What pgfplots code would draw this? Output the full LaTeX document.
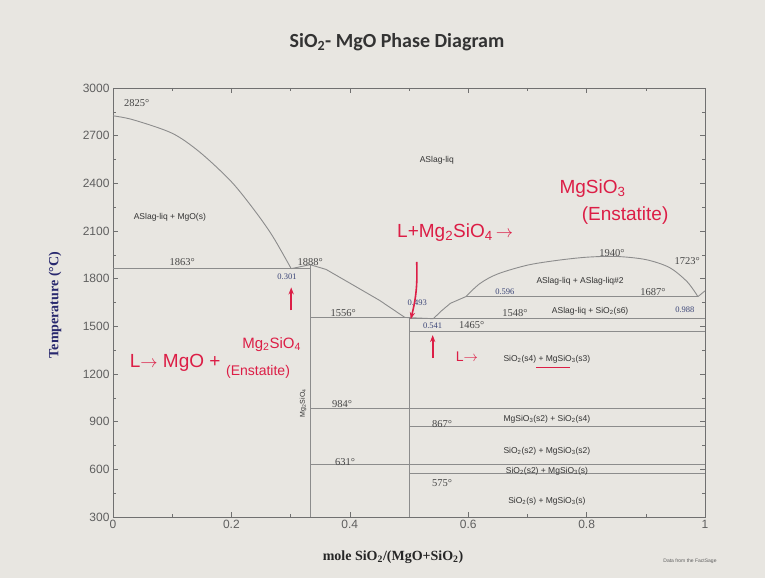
\documentclass[border=0pt]{standalone}
\usepackage{pgfplots}
\pgfplotsset{compat=1.18}
\usetikzlibrary{arrows.meta}
\usepackage{fontspec}
\setmainfont{Liberation Serif}
\newfontfamily\arial{Liberation Sans}
\newfontfamily\calibri{Carlito}
\definecolor{bg}{RGB}{232,230,225}
\definecolor{ln}{RGB}{140,140,140}
\definecolor{tx}{RGB}{70,70,70}
\definecolor{tl}{RGB}{95,95,95}
\definecolor{cb}{RGB}{60,70,120}
\definecolor{navy}{RGB}{40,40,110}
\definecolor{hand}{RGB}{220,30,70}
\pgfplotsset{pl/.style={draw=ln, line width=0.9pt, mark=none}}
\begin{document}
\begin{tikzpicture}[x=1pt,y=1pt]
\fill[bg] (0,0) rectangle (765,578);
\node[font=\calibri\bfseries\fontsize{20}{24}\selectfont, text=black!80] at (397,536) {SiO\textsubscript{2}- MgO Phase Diagram};
\node[font=\arial\fontsize{5}{6}\selectfont, text=tl] at (690,17) {Data from the FactSage};
\begin{axis}[
  at={(113pt,61pt)}, anchor=south west,
  scale only axis, width=592pt, height=429pt,
  xmin=0, xmax=1, ymin=300, ymax=3000,
  xtick={0,0.2,0.4,0.6,0.8,1}, minor x tick num=1,
  ytick={300,600,...,3000}, minor y tick num=1,
  xticklabels={0,0.2,0.4,0.6,0.8,1},
  /pgf/number format/assume math mode=true,
  /pgf/number format/1000 sep={},
  tick label style={font=\arial\fontsize{12}{14}\selectfont, text=tl},
  axis line style={ln!80!black, line width=0.8pt},
  major tick style={ln!80!black, line width=0.6pt},
  minor tick style={ln!80!black, line width=0.6pt},
  major tick length=5pt, minor tick length=3pt,
  xlabel={mole SiO\textsubscript{2}/(MgO+SiO\textsubscript{2})},
  ylabel={Temperature (°C)},
  xlabel style={at={(axis description cs:0.473,-0.093)}, anchor=center, font=\bfseries\fontsize{14}{16}\selectfont, text=black!85},
  ylabel style={at={(axis description cs:-0.098,0.494)}, anchor=center, font=\bfseries\fontsize{14}{16}\selectfont, text=navy},
  clip=false,
]
% liquidus MgO side
\addplot[pl, smooth] coordinates {(0,2825) (0.034,2800) (0.1,2715) (0.147,2595) (0.2,2410) (0.24,2225) (0.27,2065) (0.301,1863)};
% forsterite liquidus
\addplot[pl] coordinates {(0.301,1863) (0.333,1888)};
\addplot[pl] coordinates {(0.333,1888) (0.36,1858) (0.40,1772) (0.45,1664) (0.493,1556)};
% enstatite liquidus
\addplot[pl] coordinates {(0.493,1556) (0.541,1548)};
% cristobalite liquidus
\addplot[pl] coordinates {(0.541,1548) (0.555,1598) (0.57,1645) (0.596,1687)};
% miscibility gap
\addplot[pl, smooth] coordinates {(0.596,1687) (0.62,1770) (0.65,1830) (0.70,1885) (0.75,1915) (0.80,1935) (0.85,1940) (0.90,1920) (0.94,1870) (0.97,1780) (0.988,1687)};
\addplot[pl] coordinates {(0.988,1687) (1,1723)};
% horizontals
\addplot[pl] coordinates {(0,1863) (0.333,1863)};
\addplot[pl] coordinates {(0.333,1556) (0.5,1556)};
\addplot[pl] coordinates {(0.596,1687) (0.988,1687)};
\addplot[pl] coordinates {(0.5,1548) (1,1548)};
\addplot[pl] coordinates {(0.5,1465) (1,1465)};
\addplot[pl] coordinates {(0.333,984) (1,984)};
\addplot[pl] coordinates {(0.5,867) (1,867)};
\addplot[pl] coordinates {(0.333,631) (1,631)};
\addplot[pl] coordinates {(0.5,575) (1,575)};
% verticals
\addplot[pl] coordinates {(0.333,300) (0.333,1888)};
\addplot[pl] coordinates {(0.5,300) (0.5,1556)};
% temperature labels
\begin{scope}[every node/.style={font=\fontsize{10.5}{12}\selectfont, text=tx}]
\node at (axis cs:0.04,2906) {2825°};
\node at (axis cs:0.117,1903) {1863°};
\node at (axis cs:0.333,1905) {1888°};
\node at (axis cs:0.389,1584) {1556°};
\node at (axis cs:0.606,1505) {1465°};
\node at (axis cs:0.679,1584) {1548°};
\node at (axis cs:0.912,1716) {1687°};
\node at (axis cs:0.970,1911) {1723°};
\node at (axis cs:0.843,1962) {1940°};
\node at (axis cs:0.387,1011) {984°};
\node at (axis cs:0.392,646) {631°};
\node at (axis cs:0.556,885) {867°};
\node at (axis cs:0.556,514) {575°};
\end{scope}
\begin{scope}[every node/.style={font=\fontsize{8.5}{10}\selectfont, text=cb}]
\node at (axis cs:0.294,1810) {0.301};
\node at (axis cs:0.514,1647) {0.493};
\node at (axis cs:0.540,1505) {0.541};
\node at (axis cs:0.662,1716) {0.596};
\node at (axis cs:0.966,1603) {0.988};
\end{scope}
% phase labels
\begin{scope}[every node/.style={font=\arial\fontsize{8.5}{10}\selectfont, text=black!80}]
\node at (axis cs:0.096,2188) {ASlag-liq + MgO(s)};
\node at (axis cs:0.547,2547) {ASlag-liq};
\node at (axis cs:0.789,1785) {ASlag-liq + ASlag-liq\#2};
\node at (axis cs:0.806,1597) {ASlag-liq + SiO\textsubscript{2}(s6)};
\node at (axis cs:0.733,1294) {SiO\textsubscript{2}(s4) + MgSiO\textsubscript{3}(s3)};
\node at (axis cs:0.733,918) {MgSiO\textsubscript{3}(s2) + SiO\textsubscript{2}(s4)};
\node at (axis cs:0.733,715) {SiO\textsubscript{2}(s2) + MgSiO\textsubscript{3}(s2)};
\node at (axis cs:0.733,590) {SiO\textsubscript{2}(s2) + MgSiO\textsubscript{3}(s)};
\node at (axis cs:0.733,401) {SiO\textsubscript{2}(s) + MgSiO\textsubscript{3}(s)};
\node[rotate=90, font=\arial\fontsize{7}{8}\selectfont] at (axis cs:0.321,1017) {Mg\textsubscript{2}SiO\textsubscript{4}};
\end{scope}
% handwritten annotations
\begin{scope}[every node/.style={text=hand, font=\arial\fontsize{19}{22}\selectfont}]
\node at (axis cs:0.578,2090) {L+Mg\textsubscript{2}SiO\textsubscript{4}\,$\rightarrow$};
\node at (axis cs:0.81,2370) {MgSiO\textsubscript{3}};
\node at (axis cs:0.865,2200) {(Enstatite)};
\node at (axis cs:0.105,1270) {L$\rightarrow$ MgO +};
\node[font=\arial\fontsize{15}{18}\selectfont] at (axis cs:0.268,1385) {Mg\textsubscript{2}SiO\textsubscript{4}};
\node[font=\arial\fontsize{14}{16}\selectfont] at (axis cs:0.245,1213) {(Enstatite)};
\node[font=\arial\fontsize{14}{16}\selectfont] at (axis cs:0.598,1307) {L$\rightarrow$};
\end{scope}
\draw[hand, line width=1.6pt, -{Stealth[length=7pt]}] (axis cs:0.513,1905) to[bend left=8] (axis cs:0.503,1545);
\draw[hand, line width=2pt, -{Stealth[length=7pt]}] (axis cs:0.301,1600) -- (axis cs:0.301,1745);
\draw[hand, line width=2pt, -{Stealth[length=7pt]}] (axis cs:0.54,1300) -- (axis cs:0.54,1445);
\draw[hand, line width=1pt] (axis cs:0.715,1238) -- (axis cs:0.772,1238);
\end{axis}
\end{tikzpicture}
\end{document}
